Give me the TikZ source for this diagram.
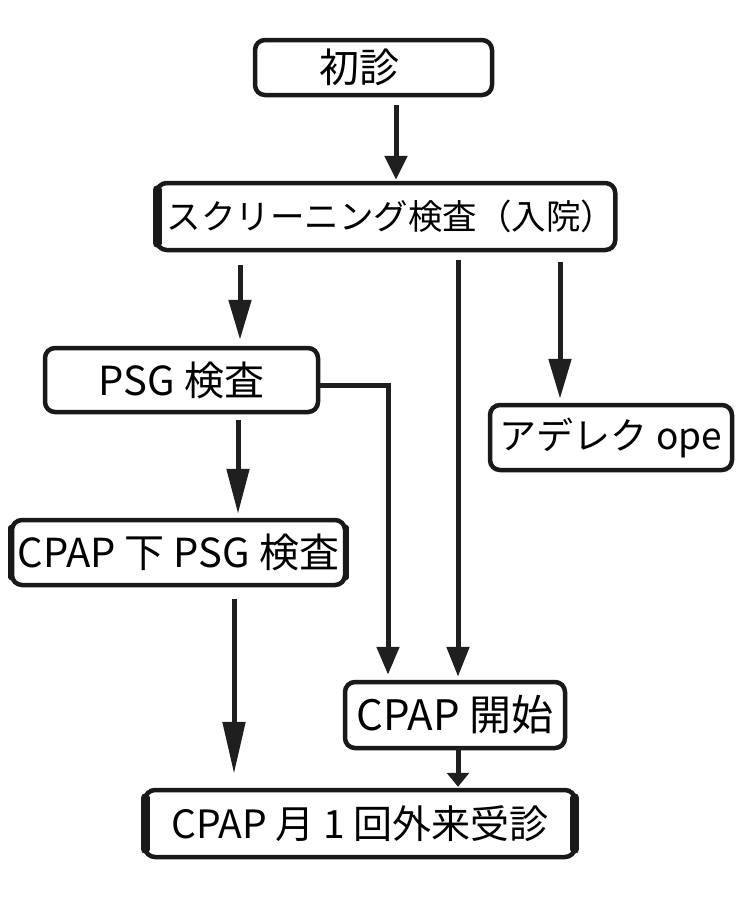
\documentclass[tikz,border=0pt]{standalone}
\usepackage{fontspec}
\setmainfont{Noto Sans CJK JP}
\usetikzlibrary{arrows.meta}
\tikzset{
  box/.style={draw=black!90, line width=4.5pt, rounded corners=10pt, fill=white, inner sep=0pt, align=center},
  edge/.style={line width=#1, draw=black!90, line cap=round},
  arr/.style={line width=5pt, draw=black!88, -{Triangle[length=#1,width=22pt]}},
  arr/.default=26pt
}
\begin{document}
\begin{tikzpicture}[x=1pt,y=-1pt]
\useasboundingbox[fill=white] (0,0) rectangle (750,898);
\node[box, minimum width=237pt, minimum height=55pt, font=\fontsize{40}{40}\selectfont] (n1) at (373.5,67.5) {\hspace*{-28pt}初診};
\node[box, minimum width=452pt, minimum height=67pt, font=\fontsize{34.5}{34.5}\selectfont] (n2) at (386,216.5) {\hspace*{10pt}スクリーニング検査（入院）};
\node[box, minimum width=273pt, minimum height=64pt, font=\fontsize{40}{40}\selectfont] (n3) at (181.5,380) {PSG 検査};
\node[box, minimum width=242pt, minimum height=65pt, font=\fontsize{37}{37}\selectfont] (n4) at (611,437.5) {アデレク ope};
\node[box, minimum width=333pt, minimum height=65pt, font=\fontsize{40}{40}\selectfont] (n5) at (178.5,552.5) {CPAP 下 PSG 検査};
\node[box, minimum width=220pt, minimum height=66pt, font=\fontsize{42}{42}\selectfont] (n6) at (455,715) {CPAP 開始};
\node[box, minimum width=430pt, minimum height=67pt, font=\fontsize{39}{39}\selectfont] (n7) at (360,823.5) {CPAP 月 1 回外来受診};
% thickened sides
\draw[edge=9pt] ([xshift=2.5pt,yshift=-9pt]n2.north west) -- ([xshift=2.5pt,yshift=9pt]n2.south west);
\draw[edge=6pt] ([xshift=1.5pt,yshift=-10pt]n5.north west) -- ([xshift=1.5pt,yshift=10pt]n5.south west);
\draw[edge=6pt] ([xshift=-1.5pt,yshift=-10pt]n5.north east) -- ([xshift=-1.5pt,yshift=10pt]n5.south east);
\draw[edge=9pt] ([xshift=2.5pt,yshift=-10pt]n7.north west) -- ([xshift=2.5pt,yshift=10pt]n7.south west);
\draw[edge=9pt] ([xshift=-2.5pt,yshift=-10pt]n7.north east) -- ([xshift=-2.5pt,yshift=10pt]n7.south east);
% arrows
\draw[arr=24pt] ([xshift=22.5pt,yshift=-8pt]n1.south) -- ([xshift=22.5pt,yshift=1pt]n1.south |- n2.north);
\draw[arr=40pt] ([xshift=-146pt,yshift=-13pt]n2.south) -- ([xshift=-146pt,yshift=6pt]n2.south |- n3.north);
\draw[arr=30pt] ([xshift=72pt,yshift=-8pt]n2.south) -- ([xshift=72pt,yshift=3pt]n2.south |- n6.north);
\draw[arr=40pt] ([xshift=174pt,yshift=-10pt]n2.south) -- ([xshift=174pt,yshift=4pt]n2.south |- n4.north);
\draw[arr=28pt] ([yshift=-5pt]n3.east) -| ([xshift=-67pt,yshift=5pt]n6.north);
\draw[arr=45pt] ([xshift=56.5pt,yshift=-6pt]n3.south) -- ([xshift=56.5pt,yshift=4pt]n3.south |- n5.north);
\draw[arr=52pt] ([xshift=55.5pt,yshift=-12pt]n5.south) -- ([xshift=55.5pt,yshift=14pt]n5.south |- n7.north);
\draw[arr=14pt] ([xshift=3pt,yshift=2pt]n6.south) -- ([xshift=3pt,yshift=1pt]n6.south |- n7.north);
\end{tikzpicture}
\end{document}
